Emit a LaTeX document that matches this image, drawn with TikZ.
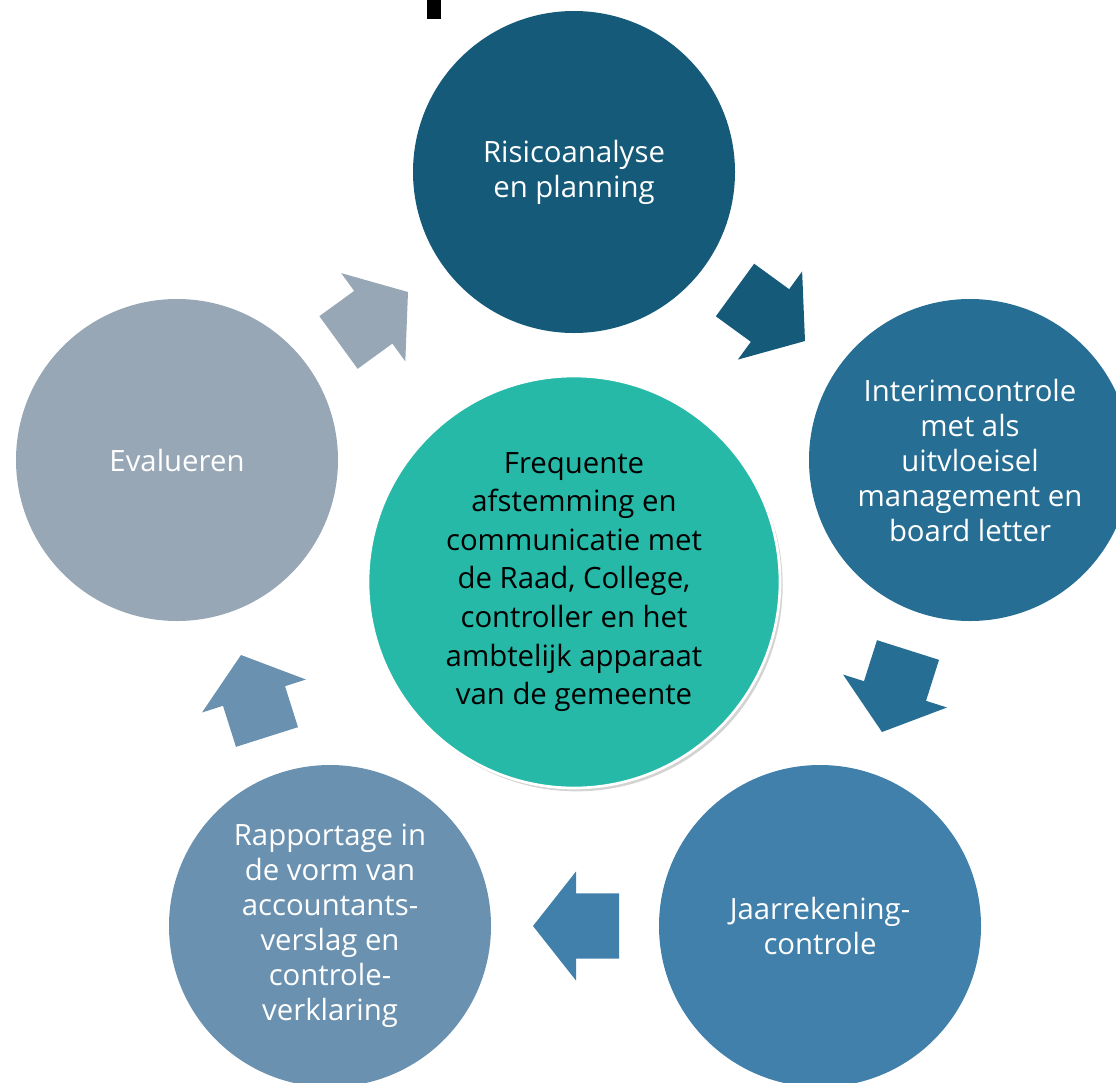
\documentclass[tikz,border=0pt]{standalone}
\usepackage{fontspec}
\setmainfont{Open Sans}
\usetikzlibrary{calc,shadows}
\definecolor{cTop}{HTML}{155A78}
\definecolor{cRight}{HTML}{276E94}
\definecolor{cBR}{HTML}{4180AA}
\definecolor{cBL}{HTML}{6A92B0}
\definecolor{cLeft}{HTML}{97A7B6}
\definecolor{cMid}{HTML}{26B9A7}
\newcommand\cyclearrow[2]{%
  \coordinate (#1h) at ($(#1b)!0.5!(#1t)$);
  \fill[#2] ($(#1b)!24.4pt!90:(#1t)$) -- ($(#1h)!24.4pt!90:(#1t)$) -- ($(#1h)!40.9pt!90:(#1t)$)
    -- (#1t) -- ($(#1h)!40.9pt!-90:(#1t)$) -- ($(#1h)!24.4pt!-90:(#1t)$)
    -- ($(#1b)!24.4pt!-90:(#1t)$) -- cycle;}
\tikzset{
  outer/.style={circle, minimum size=241.5pt, inner sep=0pt, text=white, align=center,
    font=\fontsize{22}{26.25}\selectfont},
  middle/.style={circle, minimum size=309pt, inner sep=0pt, fill=cMid, draw=white,
    line width=2pt, text=black, align=center, font=\fontsize{22}{28.9}\selectfont,
    drop shadow={shadow xshift=2pt, shadow yshift=-2.5pt, opacity=0.35}},
}
\begin{document}
\begin{tikzpicture}[x=0.75pt, y=-0.75pt]
\useasboundingbox (0,0) rectangle (1116,1082);
\fill[black] (426.7,0) rectangle (440.7,19);
% circles
\node[outer, fill=cTop]   (top)   at (574,172) {Risicoanalyse\\en planning};
\node[outer, fill=cRight] (right) at (970,460) {Interimcontrole\\met als\\uitvloeisel\\management en\\board letter};
\node[outer, fill=cBR]    (br)    at (820,926) {Jaarrekening-\\controle};
\node[outer, fill=cBL]    (bl)    at (330,926) {Rapportage in\\de vorm van\\accountants-\\verslag en\\controle-\\verklaring};
\node[outer, fill=cLeft]  (left)  at (177,460) {Evalueren};
\node[middle] (mid) at (574,582) {Frequente\\afstemming en\\communicatie met\\de Raad, College,\\controller en het\\ambtelijk apparaat\\van de gemeente};
% arrows
\coordinate (a1b) at (735,290);   \coordinate (a1t) at (805,341);
\coordinate (a2b) at (908,650);   \coordinate (a2t) at (882,732);
\coordinate (a3b) at (619,926);   \coordinate (a3t) at (533,926);
\coordinate (a4b) at (267,737);   \coordinate (a4t) at (241,655);
\coordinate (a5b) at (338.5,342.5); \coordinate (a5t) at (408,292);
\cyclearrow{a1}{cTop}
\cyclearrow{a2}{cRight}
\cyclearrow{a3}{cBR}
\cyclearrow{a4}{cBL}
\cyclearrow{a5}{cLeft}
\end{tikzpicture}
\end{document}
